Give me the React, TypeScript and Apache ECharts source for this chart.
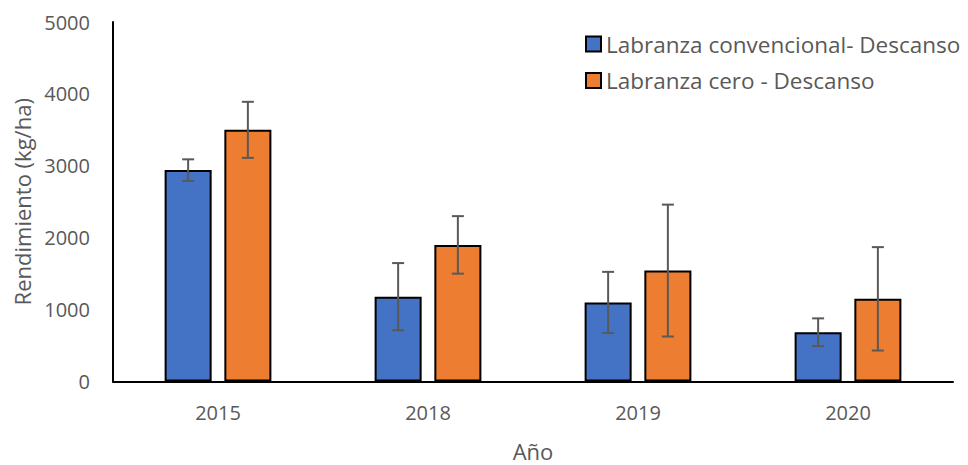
import React, { useEffect, useRef } from "react";
import * as echarts from "echarts";

const categories = ["2015", "2018", "2019", "2020"];
const seriesNames = ["Labranza convencional- Descanso", "Labranza cero - Descanso"];
const convValues = [2940, 1180, 1100, 685];
const convErrors = [150, 467, 425, 193];
const ceroValues = [3500, 1900, 1543, 1150];
const ceroErrors = [390, 400, 917, 719];
const yTicks = { min: 0, max: 5000, interval: 1000 };

const BAR_W = 0.224;
const BAR_GAP = 0.27;
const FONT = "'Open Sans', 'Noto Sans', sans-serif";
const TXT = "#595959";

function errorSeries(values: number[], errors: number[], sign: number) {
  return {
    type: "custom",
    silent: true,
    z: 10,
    data: values.map((v, i) => [i, v - errors[i], v + errors[i]]),
    renderItem: (params: any, api: any) => {
      const idx = api.value(0);
      const lo = api.coord([idx, api.value(1)]);
      const hi = api.coord([idx, api.value(2)]);
      const band = api.size([1, 0])[0];
      const off = (sign * band * (BAR_W + BAR_W * BAR_GAP)) / 2;
      const x = lo[0] + off;
      const cap = 6;
      const style = { stroke: "#595959", lineWidth: 2 };
      return {
        type: "group",
        children: [
          { type: "line", shape: { x1: x, y1: lo[1], x2: x, y2: hi[1] }, style },
          { type: "line", shape: { x1: x - cap, y1: lo[1], x2: x + cap, y2: lo[1] }, style },
          { type: "line", shape: { x1: x - cap, y1: hi[1], x2: x + cap, y2: hi[1] }, style },
        ],
      };
    },
  };
}

export default function App() {
  const ref = useRef<HTMLDivElement>(null);
  useEffect(() => {
    if (!ref.current) return;
    const chart = echarts.init(ref.current, undefined, { renderer: "svg" });
    chart.setOption({
      animation: false,
      backgroundColor: "#ffffff",
      textStyle: { fontFamily: FONT },
      grid: {
        left: 113,
        right: 15,
        top: 22,
        bottom: 83.5,
        containLabel: false,
        outerBoundsMode: "none",
      },
      legend: {
        orient: "vertical",
        left: 580,
        top: 27,
        icon: "rect",
        itemWidth: 15,
        itemHeight: 15,
        itemGap: 12.6,
        data: seriesNames,
        textStyle: { color: TXT, fontSize: 22.5, lineHeight: 24, fontFamily: FONT },
      },
      xAxis: {
        type: "category",
        data: categories,
        name: "Año",
        nameLocation: "middle",
        nameGap: 58,
        nameTextStyle: { color: TXT, fontSize: 22, fontFamily: FONT },
        axisLine: { lineStyle: { color: "#000000", width: 2 } },
        axisTick: { show: false },
        axisLabel: { color: TXT, fontSize: 20, margin: 21, fontFamily: FONT },
      },
      yAxis: {
        type: "value",
        min: yTicks.min,
        max: yTicks.max,
        interval: yTicks.interval,
        name: "Rendimiento (kg/ha)",
        nameLocation: "middle",
        nameGap: 79,
        nameTextStyle: { color: TXT, fontSize: 22, fontFamily: FONT },
        axisLine: { show: true, lineStyle: { color: "#000000", width: 2 } },
        axisTick: { show: false },
        splitLine: { show: false },
        axisLabel: {
          color: TXT,
          fontSize: 20,
          margin: 23,
          fontFamily: FONT,
          formatter: (v: number) => String(v),
        },
      },
      series: [
        {
          name: seriesNames[0],
          type: "bar",
          data: convValues,
          barWidth: `${BAR_W * 100}%`,
          barGap: `${BAR_GAP * 100}%`,
          itemStyle: { color: "#4472C4", borderColor: "#000000", borderWidth: 2 },
        },
        {
          name: seriesNames[1],
          type: "bar",
          data: ceroValues,
          barWidth: `${BAR_W * 100}%`,
          barGap: `${BAR_GAP * 100}%`,
          itemStyle: { color: "#ED7D31", borderColor: "#000000", borderWidth: 2 },
        },
        errorSeries(convValues, convErrors, -1),
        errorSeries(ceroValues, ceroErrors, 1),
      ],
    });
    return () => chart.dispose();
  }, []);
  return (
    <div
      ref={ref}
      style={{ position: "fixed", left: 0, top: 0, width: 968, height: 465 }}
    />
  );
}
